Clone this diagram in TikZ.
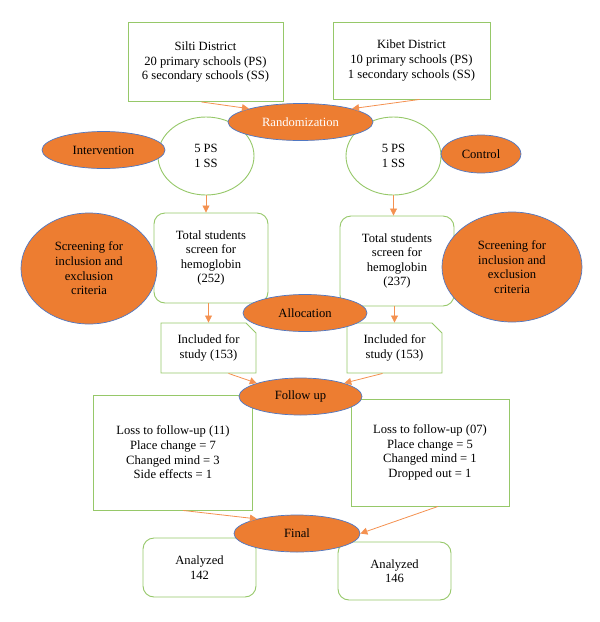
\documentclass[tikz,border=0pt]{standalone}
\usepackage{fontspec}
\setmainfont{Liberation Serif}
\usetikzlibrary{positioning,arrows.meta,shapes.geometric,shapes.misc}

\definecolor{boxgreen}{RGB}{150,200,105}
\definecolor{ovalorange}{RGB}{237,125,49}
\definecolor{ovalblue}{RGB}{80,120,195}
\definecolor{arrorange}{RGB}{244,145,80}

\begin{document}
\begin{tikzpicture}[
  x=1pt, y=-1pt,
  every node/.style={font=\fontsize{12.6}{14.6}\selectfont, align=center},
  district/.style={rectangle, draw=boxgreen, line width=0.9pt, fill=white,
                   minimum width=155pt, minimum height=79pt},
  group/.style={ellipse, draw=boxgreen, line width=0.9pt, fill=white,
                inner sep=0pt, minimum width=96pt, minimum height=78pt},
  oval/.style={ellipse, draw=ovalblue, line width=0.7pt, fill=ovalorange,
               inner sep=0pt, minimum width=124pt, minimum height=37pt},
  tally/.style={rectangle, draw=boxgreen, line width=0.9pt, fill=white,
                rounded corners=11pt, minimum width=114pt, minimum height=90pt},
  incl/.style={chamfered rectangle, chamfered rectangle corners=north east,
               chamfered rectangle xsep=5pt, chamfered rectangle ysep=5pt,
               draw=boxgreen, line width=0.9pt, fill=white,
               minimum width=95pt, minimum height=50pt, inner sep=0pt},
  lossbox/.style={rectangle, draw=boxgreen, line width=0.9pt, fill=white,
                  minimum width=159pt},
  arr/.style={-{Triangle[length=7pt,width=7pt]}, line width=0.8pt, arrorange},
]
\useasboundingbox (0,0) rectangle (600,622);

% Districts and randomization
\node[district] (silti) at (205.5,62) {Silti District\\20 primary schools (PS)\\6 secondary schools (SS)};
\node[district, minimum width=157pt, minimum height=77pt] (kibet) at (411.5,60.5) {Kibet District\\10 primary schools (PS)\\1 secondary schools (SS)};
\node[group] (lgrp) at (206,156) {5 PS\\1 SS};
\node[group, minimum width=95pt] (rgrp) at (393.5,156) {5 PS\\1 SS};

% Screening
\node[tally] (ltotal) at (211,258) {Total students\\screen for\\hemoglobin\\(252)};
\node[tally] (rtotal) at (397,261) {Total students\\screen for\\hemoglobin\\(237)};
\node[incl] (lincl) at (208.5,348) {Included for\\study (153)};
\node[incl] (rincl) at (394.5,348) {Included for\\study (153)};

% Follow up and final
\node[lossbox, minimum height=115pt] (lloss) at (173,452.5) {Loss to follow-up (11)\\Place change = 7\\Changed mind = 3\\Side effects = 1};
\node[lossbox, minimum width=158pt, minimum height=107pt] (rloss) at (430,452.5) {Loss to follow-up (07)\\Place change = 5\\Changed mind = 1\\Dropped out = 1};
\node[tally, minimum width=113pt, minimum height=59pt] (lana) at (199.5,567.5) {Analyzed\\142};
\node[tally, minimum width=113pt, minimum height=58pt] (rana) at (394.5,571) {Analyzed\\146};

% Orange ovals on top
\node[oval, minimum width=145pt, text=white] (rand) at (300.5,122) {Randomization};
\node[oval, minimum width=123pt] (interv) at (103.5,150) {Intervention};
\node[oval, minimum width=80pt, minimum height=38pt] (control) at (481,154) {Control};
\node[oval, minimum width=136pt, minimum height=111pt] (lscreen) at (89,268.5) {Screening for\\inclusion and\\exclusion\\criteria};
\node[oval, minimum width=140pt, minimum height=110pt] (rscreen) at (512,267) {Screening for\\inclusion and\\exclusion\\criteria};
\node[oval] (alloc) at (305,313) {Allocation};
\node[oval, minimum width=123pt] (follow) at (300.5,396.5) {Follow up};
\node[oval, minimum width=126pt] (final) at (297,533.5) {Final};

% Arrows
\draw[arr] ([xshift=-4pt]silti.south) -- (rand.north west);
\draw[arr] ([xshift=8pt]kibet.south) -- (rand.north east);
\draw[arr] (lgrp.south) -- (lgrp.south |- ltotal.north);
\draw[arr] (rgrp.south) -- (rgrp.south |- rtotal.north);
\draw[arr] (lincl.north |- ltotal.south) -- (lincl.north);
\draw[arr] (rincl.north |- rtotal.south) -- (rincl.north);
\draw[arr] ([xshift=20pt]lincl.south) -- (follow.north west);
\draw[arr] ([xshift=-12pt]rincl.south) -- (follow.north east);
\draw[arr] ([xshift=10pt]lloss.south) -- (final.160);
\draw[arr] ([xshift=8pt]rloss.south) -- (final.east);

\end{tikzpicture}
\end{document}
